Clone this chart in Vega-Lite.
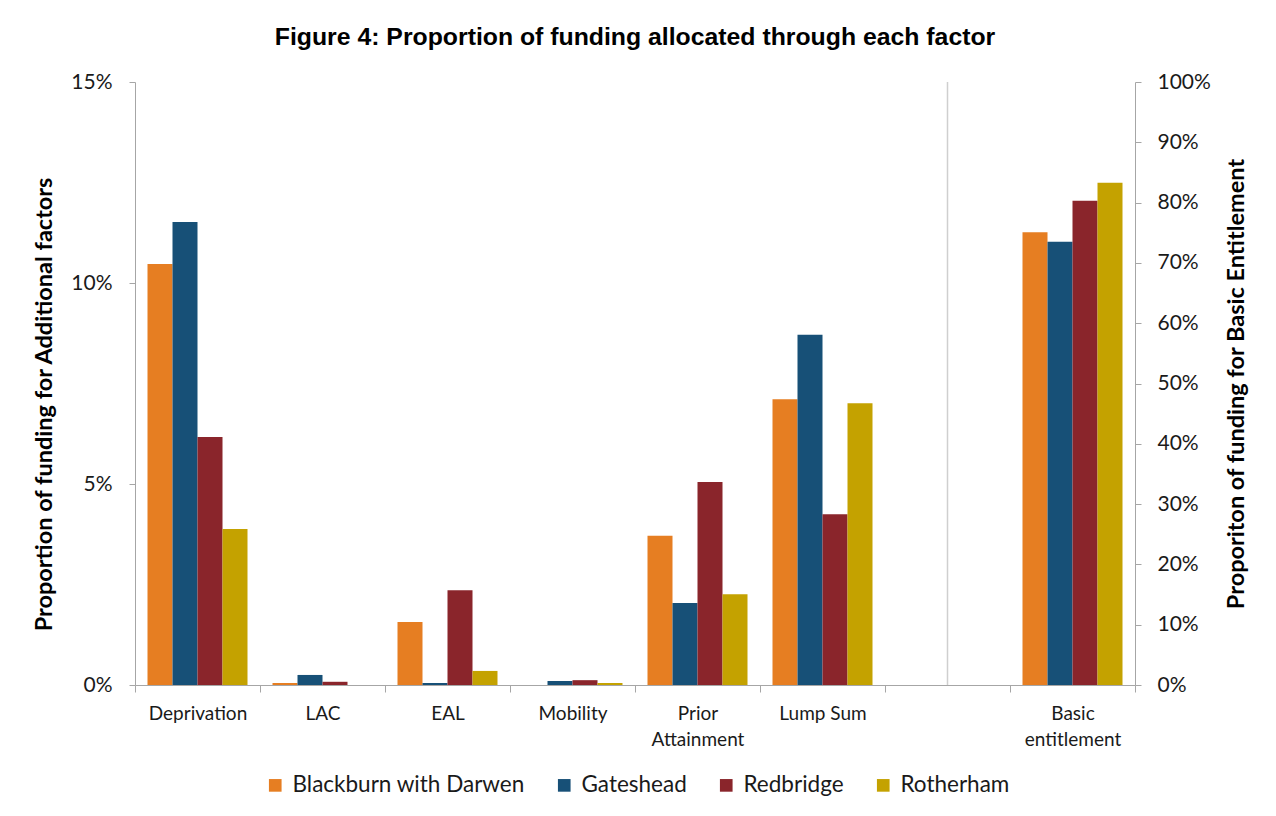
{
  "$schema": "https://vega.github.io/schema/vega-lite/v6.json",
  "width": 1000,
  "height": 603,
  "autosize": {"type": "none"},
  "padding": {"left": 135, "top": 82, "right": 141, "bottom": 131},
  "background": "white",
  "title": {
    "text": "Figure 4: Proportion of funding allocated through each factor",
    "font": "Liberation Sans",
    "fontSize": 24.8,
    "fontWeight": "bold",
    "color": "#000000",
    "anchor": "middle",
    "offset": 21
  },
  "config": {
    "view": {"stroke": null},
    "font": "Lato",
    "axis": {
      "domainColor": "#a6a6a6",
      "tickColor": "#a6a6a6",
      "labelColor": "#1a1a1a",
      "titleColor": "#000000",
      "labelFont": "Lato",
      "titleFont": "Lato",
      "grid": false
    },
    "legend": {
      "labelFont": "Lato",
      "labelFontSize": 22.5,
      "labelColor": "#1a1a1a",
      "labelLimit": 500
    }
  },
  "data": {
    "values": [
      {"factor": "Deprivation", "authority": "Blackburn with Darwen", "value": 0.1047},
      {"factor": "Deprivation", "authority": "Gateshead", "value": 0.1152},
      {"factor": "Deprivation", "authority": "Redbridge", "value": 0.0617},
      {"factor": "Deprivation", "authority": "Rotherham", "value": 0.0388},
      {"factor": "LAC", "authority": "Blackburn with Darwen", "value": 0.0005},
      {"factor": "LAC", "authority": "Gateshead", "value": 0.0025},
      {"factor": "LAC", "authority": "Redbridge", "value": 0.0008},
      {"factor": "LAC", "authority": "Rotherham", "value": 0.0},
      {"factor": "EAL", "authority": "Blackburn with Darwen", "value": 0.0157},
      {"factor": "EAL", "authority": "Gateshead", "value": 0.0005},
      {"factor": "EAL", "authority": "Redbridge", "value": 0.0236},
      {"factor": "EAL", "authority": "Rotherham", "value": 0.0035},
      {"factor": "Mobility", "authority": "Blackburn with Darwen", "value": 0.0},
      {"factor": "Mobility", "authority": "Gateshead", "value": 0.001},
      {"factor": "Mobility", "authority": "Redbridge", "value": 0.0012},
      {"factor": "Mobility", "authority": "Rotherham", "value": 0.0005},
      {"factor": "Prior Attainment", "authority": "Blackburn with Darwen", "value": 0.0371},
      {"factor": "Prior Attainment", "authority": "Gateshead", "value": 0.0204},
      {"factor": "Prior Attainment", "authority": "Redbridge", "value": 0.0505},
      {"factor": "Prior Attainment", "authority": "Rotherham", "value": 0.0226},
      {"factor": "Lump Sum", "authority": "Blackburn with Darwen", "value": 0.0711},
      {"factor": "Lump Sum", "authority": "Gateshead", "value": 0.0871},
      {"factor": "Lump Sum", "authority": "Redbridge", "value": 0.0425},
      {"factor": "Lump Sum", "authority": "Rotherham", "value": 0.0701},
      {"factor": "Basic entitlement", "authority": "Blackburn with Darwen", "value": 0.751},
      {"factor": "Basic entitlement", "authority": "Gateshead", "value": 0.735},
      {"factor": "Basic entitlement", "authority": "Redbridge", "value": 0.803},
      {"factor": "Basic entitlement", "authority": "Rotherham", "value": 0.833}
    ]
  },
  "layer": [
    {
      "transform": [{"filter": "datum.factor != 'Basic entitlement'"}],
      "mark": {"type": "bar"},
      "encoding": {
        "x": {
          "field": "factor",
          "type": "nominal",
          "sort": null,
          "scale": {
            "domain": ["Deprivation", "LAC", "EAL", "Mobility", "Prior Attainment", "Lump Sum", " ", "Basic entitlement"],
            "paddingInner": 0,
            "paddingOuter": 0
          },
          "axis": {
            "title": null,
            "labelAngle": 0,
            "labelFontSize": 19,
            "labelPadding": 12,
            "labelLineHeight": 26,
            "labelBaseline": "top",
            "tickBand": "extent",
            "tickSize": 7,
            "labelExpr": "datum.value == 'Prior Attainment' ? ['Prior', 'Attainment'] : datum.value == 'Basic entitlement' ? ['Basic', 'entitlement'] : datum.label"
          }
        },
        "xOffset": {
          "field": "authority",
          "type": "nominal",
          "scale": {"paddingInner": 0, "paddingOuter": 0.5}
        },
        "y": {
          "field": "value",
          "type": "quantitative",
          "scale": {"domain": [0, 0.15], "nice": false},
          "axis": {
            "title": "Proportion of funding for Additional factors",
            "titleFontSize": 23.5,
            "titleFontWeight": "bold",
            "titlePadding": 14,
            "titleY": 322,
            "format": ".0%",
            "values": [0, 0.05, 0.1, 0.15],
            "labelFontSize": 21,
            "labelPadding": 17,
            "tickSize": 6
          }
        },
        "color": {
          "field": "authority",
          "type": "nominal",
          "scale": {
            "domain": ["Blackburn with Darwen", "Gateshead", "Redbridge", "Rotherham"],
            "range": ["#E67E22", "#175077", "#8A252B", "#C4A200"]
          },
          "legend": {
            "title": null,
            "orient": "none",
            "legendX": 129,
            "legendY": 692,
            "direction": "horizontal",
            "symbolType": "square",
            "symbolSize": 160,
            "symbolStrokeWidth": 0,
            "columnPadding": 28,
            "labelOffset": 6
          }
        }
      }
    },
    {
      "transform": [{"filter": "datum.factor == 'Basic entitlement'"}],
      "mark": {"type": "bar"},
      "encoding": {
        "x": {"field": "factor", "type": "nominal", "sort": null},
        "xOffset": {"field": "authority", "type": "nominal"},
        "y": {
          "field": "value",
          "type": "quantitative",
          "scale": {"domain": [0, 1], "nice": false},
          "axis": {
            "orient": "right",
            "title": "Proporiton of funding for Basic Entitlement",
            "titleFontSize": 23.5,
            "titleFontWeight": "bold",
            "titleAngle": 270,
            "titlePadding": 38,
            "format": ".0%",
            "values": [0, 0.1, 0.2, 0.3, 0.4, 0.5, 0.6, 0.7, 0.8, 0.9, 1],
            "labelFontSize": 21,
            "labelPadding": 16,
            "tickSize": 6
          }
        },
        "color": {"field": "authority", "type": "nominal"}
      }
    },
    {
      "transform": [{"filter": "datum.factor == 'Basic entitlement' && datum.authority == 'Gateshead'"}, {"calculate": "' '", "as": "sep"}],
      "mark": {"type": "rule", "color": "#cfcfcf", "strokeWidth": 1.5},
      "encoding": {
        "x": {"field": "sep", "type": "nominal"}
      }
    }
  ],
  "resolve": {"scale": {"y": "independent"}}
}
